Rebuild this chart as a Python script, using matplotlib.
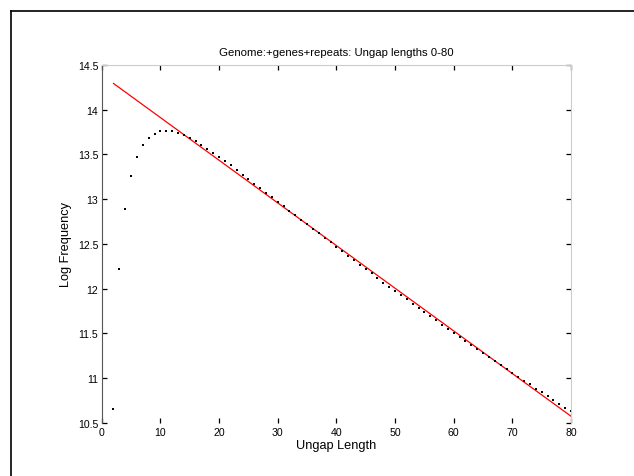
import matplotlib

matplotlib.use("Agg")
import matplotlib.pyplot as plt
from matplotlib.lines import Line2D

plt.rcParams["font.family"] = ["Liberation Sans", "DejaVu Sans"]

# Log frequency of ungapped segment lengths 2..80
ungap_length = list(range(2, 81))
log_freq = [
    10.656, 12.22, 12.890, 13.254, 13.473, 13.604, 13.685, 13.730, 13.757,
    13.763, 13.760, 13.738, 13.712, 13.679, 13.645, 13.604, 13.563, 13.515,
    13.473, 13.422, 13.377, 13.328, 13.272, 13.224, 13.172, 13.124, 13.068,
    13.020, 12.971, 12.920, 12.871, 12.823, 12.770, 12.719, 12.666, 12.618,
    12.569, 12.518, 12.469, 12.424, 12.368, 12.320, 12.268, 12.220, 12.172,
    12.119, 12.067, 12.019, 11.974, 11.930, 11.882, 11.833, 11.785, 11.737,
    11.692, 11.647, 11.598, 11.554, 11.509, 11.461, 11.416, 11.372, 11.324,
    11.282, 11.238, 11.196, 11.148, 11.104, 11.063, 11.018, 10.973, 10.933,
    10.881, 10.844, 10.799, 10.758, 10.713, 10.672, 10.638,
]

# Linear fit to the tail, drawn between its end points
fit_x = [2, 80]
fit_y = [14.292, 10.576]

x_ticks = [0, 10, 20, 30, 40, 50, 60, 70, 80]
y_ticks = [10.5, 11, 11.5, 12, 12.5, 13, 13.5, 14, 14.5]
y_tick_labels = ["10.5", "11", "11.5", "12", "12.5", "13", "13.5", "14", "14.5"]

fig = plt.figure(figsize=(6.34, 4.77), dpi=100)
ax = fig.add_axes([0.1605, 0.111, 0.7402, 0.751])

ax.plot(fit_x, fit_y, color="red", linewidth=0.9)
ax.plot(ungap_length, log_freq, linestyle="none", marker="s",
        markersize=1.6, color="black", markeredgewidth=0)

ax.set_xlim(0, 80)
ax.set_ylim(10.5, 14.5)
ax.set_xticks(x_ticks)
ax.set_xticklabels([str(t) for t in x_ticks])
ax.set_yticks(y_ticks)
ax.set_yticklabels(y_tick_labels)
ax.tick_params(direction="in", length=3.5, width=0.9, labelsize=7.6, pad=2.5,
               top=True, right=True, color="black")

ax.spines["left"].set_color("#555555")
ax.spines["left"].set_linewidth(0.8)
ax.spines["bottom"].set_visible(False)
for side in ("top", "right"):
    ax.spines[side].set_color("#cccccc")
    ax.spines[side].set_linewidth(0.8)

ax.set_title("Genome:+genes+repeats: Ungap lengths 0-80", fontsize=8.2, pad=7)
ax.set_xlabel("Ungap Length", fontsize=9.2, labelpad=2)
ax.set_ylabel("Log Frequency", fontsize=9.2, labelpad=4)

# Page frame along the top and left edges
fig.add_artist(Line2D([11 / 634, 1], [1 - 12 / 477, 1 - 12 / 477],
                      transform=fig.transFigure, color="black", linewidth=1.2))
fig.add_artist(Line2D([11 / 634, 11 / 634], [0, 1 - 12 / 477],
                      transform=fig.transFigure, color="black", linewidth=1.2))

fig.savefig("out.png", dpi=100)
